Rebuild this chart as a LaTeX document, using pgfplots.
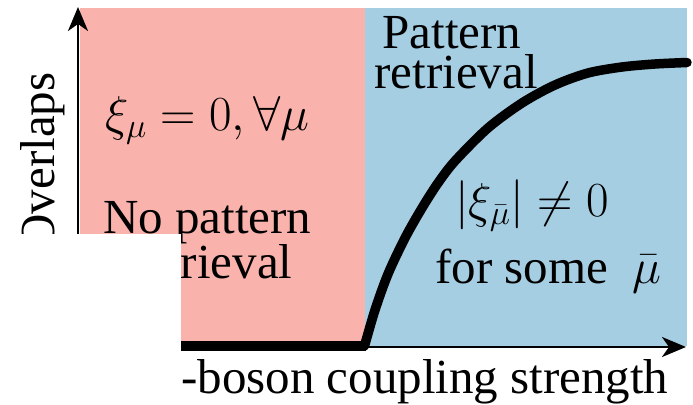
\RequirePackage{fix-cm}
\documentclass[border=0pt]{standalone}
\usepackage[no-math]{fontspec}
\setmainfont{Liberation Serif}
\usepackage{pgfplots}
\pgfplotsset{compat=1.18}
\usetikzlibrary{arrows.meta}
\definecolor{pinkreg}{RGB}{249,179,172}
\definecolor{bluereg}{RGB}{166,206,227}
\newcommand{\bigf}{\fontsize{49bp}{51bp}\selectfont}
\begin{document}
\begin{tikzpicture}
\begin{axis}[
  at={(78bp,58bp)}, anchor=south west,
  x=1bp, y=1bp,
  xmin=78, xmax=685, ymin=58, ymax=397,
  hide axis,
  clip=false,
]
\fill[pinkreg] (axis cs:80,59.5) rectangle (axis cs:365,397);
\fill[bluereg] (axis cs:365,59.5) rectangle (axis cs:687,397);
\draw[line width=2.5bp, -{Stealth[length=24bp,width=20bp,inset=7bp]}] (axis cs:78,58) -- (axis cs:78,398);
\draw[line width=2.5bp, -{Stealth[length=24bp,width=20bp,inset=7bp]}] (axis cs:78,58) -- (axis cs:686,58);
\addplot[line width=9.5bp, black] coordinates {(78,59) (366,59)};
\addplot[line width=9.5bp, black, smooth, line cap=round] coordinates {
(364.5,59) (375,95) (388,131) (405,167) (422,197) (438,222) (455,244) (488,277) (522,302) (555,320) (588,332) (622,338) (655,341) (687,342.5)};
\node[anchor=base, inner sep=0] at (axis cs:452,357) {\bigf Pattern};
\node[anchor=base, inner sep=0] at (axis cs:456,317) {\bigf retrieval};
\node[anchor=base west, inner sep=0] at (axis cs:105,275) {\bigf $\xi_\mu = 0, \forall\mu$};
\node[anchor=base west, inner sep=0] at (axis cs:103,172) {\bigf No pattern};
\node[anchor=base west, inner sep=0] at (axis cs:129,127) {\bigf retrieval};
\node[anchor=base west, inner sep=0] at (axis cs:455,188) {\bigf $|\xi_{\bar\mu}| \neq 0$};
\node[anchor=base west, inner sep=0] at (axis cs:435,122) {\bigf for some~ $\bar\mu$};
\node[rotate=90, anchor=base, inner sep=0] at (axis cs:55,244) {\bigf Overlaps};
\fill[white] (axis cs:0,0) rectangle (axis cs:181,171);
\node[anchor=base west, inner sep=0] at (axis cs:181,12) {\bigf -boson coupling strength};
\end{axis}
\pgfresetboundingbox
\path[use as bounding box] (0,0) rectangle (693bp,405bp);
\end{tikzpicture}
\end{document}
